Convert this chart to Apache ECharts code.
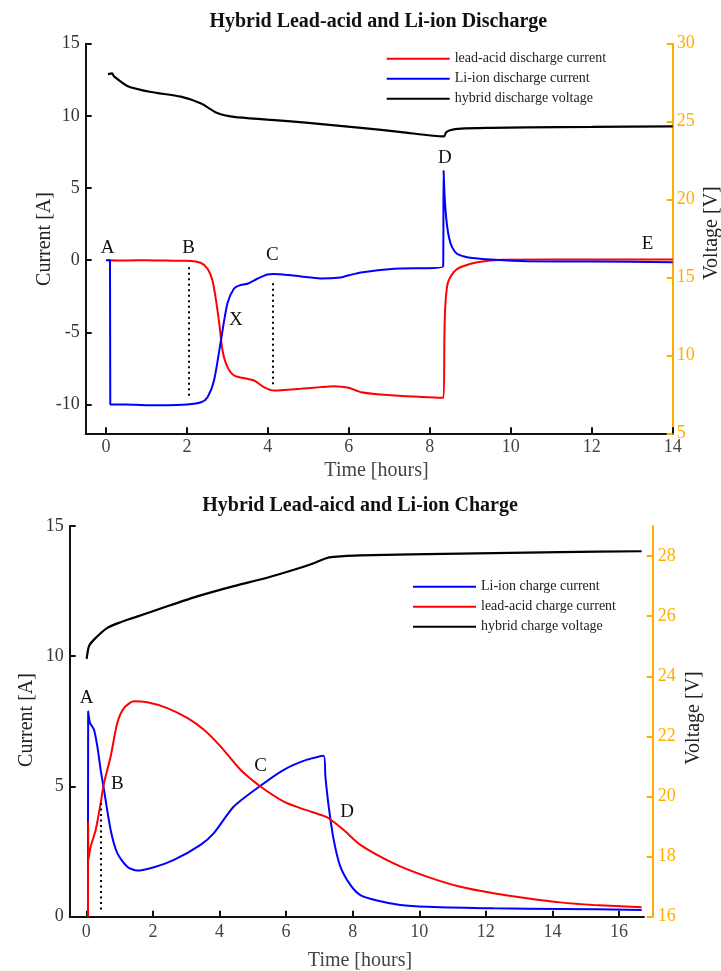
<!DOCTYPE html>
<html>
<head>
<meta charset="utf-8">
<script src="https://cdn.jsdelivr.net/npm/echarts@6/dist/echarts.min.js"></script>
<style>html,body{margin:0;padding:0;background:#fff;}#c{width:721px;height:971px;}</style>
</head>
<body>
<div id="c"></div>
<script>
// ---------- Discharge (top) ----------
const disVoltT = [0.05, 0.15, 0.2, 0.54, 1.11, 1.85, 2.35, 2.75, 3.16, 3.99, 5.0, 6.3, 7.3, 8.35, 8.4, 8.5, 8.77, 9.5, 10.4, 12, 14];
const disVoltV = [28.05, 28.1, 27.9, 27.27, 26.9, 26.6, 26.16, 25.55, 25.3, 25.13, 24.92, 24.6, 24.33, 24.05, 24.3, 24.45, 24.55, 24.6, 24.63, 24.66, 24.7];
const disLiT = [0, 0.1, 0.107, 0.5, 1.0, 1.5, 2.0, 2.35, 2.51, 2.67, 2.84, 3.0, 3.16, 3.3, 3.49, 3.74, 3.99, 4.15, 4.5, 4.81, 5.3, 5.8, 6.0, 6.3, 7.12, 8.33, 8.34, 8.36, 8.39, 8.43, 8.48, 8.55, 8.67, 8.85, 9.0, 9.6, 10.4, 12, 14];
const disLiI = [0, 0, -10, -10, -10.05, -10.05, -10, -9.85, -9.5, -8.34, -5.57, -3.0, -1.98, -1.75, -1.64, -1.29, -1.0, -0.96, -1.03, -1.13, -1.27, -1.2, -1.05, -0.85, -0.6, -0.44, 6.2, 4.8, 3.4, 2.3, 1.5, 0.9, 0.44, 0.25, 0.17, 0.03, -0.07, -0.1, -0.14];
const disLeadT = [0.05, 0.5, 1.0, 1.5, 2.0, 2.35, 2.51, 2.63, 2.72, 2.8, 2.88, 3.0, 3.17, 3.49, 3.66, 3.9, 4.15, 4.5, 4.81, 5.3, 5.63, 6.0, 6.3, 7.12, 8.34, 8.36, 8.38, 8.44, 8.59, 8.75, 9.17, 9.8, 12, 14];
const disLeadI = [0, -0.02, 0, -0.03, -0.05, -0.2, -0.6, -1.4, -2.8, -4.4, -6.26, -7.4, -8.0, -8.22, -8.34, -8.8, -9.04, -8.98, -8.92, -8.8, -8.74, -8.85, -9.15, -9.38, -9.54, -5.5, -3.3, -1.64, -0.83, -0.49, -0.14, 0.03, 0.05, 0.05];
const disXTicks = [0, 2, 4, 6, 8, 10, 12, 14];
const disCurTicks = [-10, -5, 0, 5, 10, 15];
const disNames = ['lead-acid discharge current', 'Li-ion discharge current', 'hybrid discharge voltage'];
const disLetters = [['A', 0.04, 0.86], ['B', 2.04, 0.86], ['C', 4.11, 0.33], ['X', 3.21, -4.18], ['D', 8.37, 7.1], ['E', 13.38, 1.09]];
const disDotted = [[2.04, -0.49, -9.5], [4.13, -1.6, -8.8]];

// ---------- Charge (bottom) ----------
const chVoltT = [0.01, 0.08, 0.23, 0.63, 1.03, 1.43, 2.43, 3.43, 4.43, 5.43, 6.43, 6.83, 7.18, 7.43, 8.23, 11.23, 14.23, 16.68];
const chVoltV = [24.58, 25.0, 25.22, 25.61, 25.8, 25.95, 26.33, 26.69, 27.0, 27.28, 27.61, 27.76, 27.92, 27.97, 28.02, 28.08, 28.13, 28.16];
const chLiT = [0.05, 0.055, 0.11, 0.23, 0.33, 0.43, 0.53, 0.73, 0.93, 1.23, 1.53, 2.03, 2.63, 3.43, 3.83, 4.43, 5.23, 5.93, 6.63, 7.13, 7.18, 7.28, 7.43, 7.63, 7.93, 8.23, 8.73, 9.43, 10.23, 12.23, 14.23, 16.68];
const chLiI = [0, 7.88, 7.44, 7.18, 6.54, 5.64, 4.87, 3.33, 2.44, 1.92, 1.77, 1.9, 2.18, 2.76, 3.21, 4.23, 5.03, 5.64, 6.03, 6.18, 5.38, 4.23, 2.95, 1.92, 1.22, 0.83, 0.62, 0.45, 0.38, 0.32, 0.3, 0.26];
const chLeadT = [0.05, 0.055, 0.06, 0.13, 0.28, 0.43, 0.53, 0.73, 0.93, 1.13, 1.43, 1.83, 2.43, 3.03, 3.53, 4.03, 4.63, 5.23, 5.93, 6.43, 7.13, 7.28, 7.73, 8.23, 9.23, 10.23, 11.23, 12.23, 13.23, 14.23, 15.23, 16.68];
const chLeadI = [0, 3.65, 2.18, 2.69, 3.33, 4.36, 5.13, 6.15, 7.44, 8.01, 8.27, 8.23, 8.01, 7.63, 7.18, 6.54, 5.64, 5.0, 4.42, 4.17, 3.87, 3.78, 3.33, 2.76, 2.05, 1.54, 1.15, 0.9, 0.71, 0.55, 0.45, 0.36];
const chXTicks = [0, 2, 4, 6, 8, 10, 12, 14, 16];
const chVoltTicks = [16, 18, 20, 22, 24, 26, 28];
const chNames = ['Li-ion charge current', 'lead-acid charge current', 'hybrid charge voltage'];
const chLetters = [['A', 0.01, 8.4], ['B', 0.93, 5.1], ['C', 5.23, 5.8], ['D', 7.83, 4.0]];
const chDotted = [[0.43, 4.37, 0.26]];

const FONT = '"Liberation Serif", "DejaVu Serif", serif';
const ORANGE = '#FFAD00';
const zip = (a, b) => a.map((v, i) => [v, b[i]]);

const blackAxisLine = { show: true, onZero: false, lineStyle: { color: '#111', width: 2 } };
const orangeAxisLine = { show: true, onZero: false, lineStyle: { color: ORANGE, width: 2 } };
const tickIn = (color, vals) => ({ show: true, inside: true, length: 6, lineStyle: { color: color, width: 2 }, customValues: vals });

function letterPoints(list) {
  return {
    symbol: 'circle', symbolSize: 0, silent: true,
    label: { show: true, position: 'inside', color: '#111', fontFamily: FONT, fontSize: 19, formatter: p => p.name },
    data: list.map(l => ({ name: l[0], coord: [l[1], l[2]] }))
  };
}
function dottedLines(list) {
  return {
    symbol: ['none', 'none'], silent: true, label: { show: false },
    lineStyle: { color: '#000', width: 2, type: [2, 3.5] },
    data: list.map(d => [{ coord: [d[0], d[1]] }, { coord: [d[0], d[2]] }])
  };
}
function lineSeries(name, xi, yi, t, v, color, w) {
  return { name: name, type: 'line', xAxisIndex: xi, yAxisIndex: yi, data: zip(t, v), showSymbol: false, symbol: 'none',
    smooth: 0.25,
    lineStyle: { color: color, width: w }, itemStyle: { color: color } };
}

const s0 = lineSeries(disNames[0], 0, 0, disLeadT, disLeadI, '#FF0000', 2);
s0.markPoint = letterPoints(disLetters); s0.markLine = dottedLines(disDotted);
const s3 = lineSeries(chNames[0], 1, 2, chLiT, chLiI, '#0000FF', 2);
s3.markPoint = letterPoints(chLetters); s3.markLine = dottedLines(chDotted);

const option = {
  animation: false,
  backgroundColor: '#fff',
  grid: [
    { left: 85.7, top: 43.7, width: 587, height: 389.6 },
    { left: 69.7, top: 526, width: 574.3, height: 390.7 }
  ],
  xAxis: [
    { gridIndex: 0, type: 'value', min: -0.5, max: 14, axisLine: blackAxisLine, axisTick: tickIn('#111', disXTicks),
      axisLabel: { customValues: disXTicks, color: '#444', fontFamily: FONT, fontSize: 18, margin: 5 }, splitLine: { show: false } },
    { gridIndex: 1, type: 'value', min: -0.5, max: 16.75, axisLine: blackAxisLine, axisTick: tickIn('#111', chXTicks),
      axisLabel: { customValues: chXTicks, color: '#444', fontFamily: FONT, fontSize: 18, margin: 7 }, splitLine: { show: false } }
  ],
  yAxis: [
    { gridIndex: 0, type: 'value', min: -12, max: 15, position: 'left', axisLine: blackAxisLine, axisTick: tickIn('#111', disCurTicks),
      axisLabel: { customValues: disCurTicks, color: '#333', fontFamily: FONT, fontSize: 18, margin: 6 }, splitLine: { show: false } },
    { gridIndex: 0, type: 'value', min: 5, max: 30, interval: 5, position: 'right', axisLine: orangeAxisLine,
      axisTick: { show: true, inside: true, length: 6, lineStyle: { color: ORANGE, width: 2 } },
      axisLabel: { color: ORANGE, fontFamily: FONT, fontSize: 18, margin: 4 }, splitLine: { show: false } },
    { gridIndex: 1, type: 'value', min: 0, max: 15, interval: 5, position: 'left', axisLine: blackAxisLine,
      axisTick: { show: true, inside: true, length: 6, lineStyle: { color: '#111', width: 2 } },
      axisLabel: { color: '#333', fontFamily: FONT, fontSize: 18, margin: 6 }, splitLine: { show: false } },
    { gridIndex: 1, type: 'value', min: 16, max: 29, position: 'right', offset: 8.7, axisLine: orangeAxisLine,
      axisTick: tickIn(ORANGE, chVoltTicks),
      axisLabel: { customValues: chVoltTicks, color: ORANGE, fontFamily: FONT, fontSize: 18, margin: 5 }, splitLine: { show: false } }
  ],
  legend: [
    { data: disNames, orient: 'vertical', left: 386.7, top: 48.7, padding: 0, itemGap: 0, icon: 'rect', itemWidth: 63, itemHeight: 2,
      textStyle: { fontFamily: FONT, fontSize: 14, color: '#222', lineHeight: 20 } },
    { data: chNames, orient: 'vertical', left: 413, top: 576.7, padding: 0, itemGap: 0, icon: 'rect', itemWidth: 63, itemHeight: 2,
      textStyle: { fontFamily: FONT, fontSize: 14, color: '#222', lineHeight: 20 } }
  ],
  series: [
    s0,
    lineSeries(disNames[1], 0, 0, disLiT, disLiI, '#0000FF', 2),
    lineSeries(disNames[2], 0, 1, disVoltT, disVoltV, '#000', 2.2),
    s3,
    lineSeries(chNames[1], 1, 2, chLeadT, chLeadI, '#FF0000', 2),
    lineSeries(chNames[2], 1, 3, chVoltT, chVoltV, '#000', 2.2)
  ],
  graphic: [
    { type: 'text', x: 378.3, y: 22, style: { text: 'Hybrid Lead-acid and Li-ion Discharge', fontFamily: FONT, fontWeight: 'bold', fontSize: 20, fill: '#111', align: 'center', verticalAlign: 'middle' } },
    { type: 'text', x: 360, y: 506, style: { text: 'Hybrid Lead-aicd and Li-ion Charge', fontFamily: FONT, fontWeight: 'bold', fontSize: 20, fill: '#111', align: 'center', verticalAlign: 'middle' } },
    { type: 'text', x: 45, y: 239, rotation: Math.PI / 2, style: { text: 'Current [A]', fontFamily: FONT, fontSize: 20, fill: '#222', align: 'center', verticalAlign: 'middle' } },
    { type: 'text', x: 711.7, y: 233, rotation: Math.PI / 2, style: { text: 'Voltage [V]', fontFamily: FONT, fontSize: 20, fill: '#222', align: 'center', verticalAlign: 'middle' } },
    { type: 'text', x: 376.5, y: 471, style: { text: 'Time [hours]', fontFamily: FONT, fontSize: 20, fill: '#444', align: 'center', verticalAlign: 'middle' } },
    { type: 'text', x: 27, y: 720, rotation: Math.PI / 2, style: { text: 'Current [A]', fontFamily: FONT, fontSize: 20, fill: '#222', align: 'center', verticalAlign: 'middle' } },
    { type: 'text', x: 694, y: 718, rotation: Math.PI / 2, style: { text: 'Voltage [V]', fontFamily: FONT, fontSize: 20, fill: '#222', align: 'center', verticalAlign: 'middle' } },
    { type: 'text', x: 360, y: 961, style: { text: 'Time [hours]', fontFamily: FONT, fontSize: 20, fill: '#444', align: 'center', verticalAlign: 'middle' } }
  ]
};

const chart = echarts.init(document.getElementById('c'), null, { renderer: 'canvas' });
chart.setOption(option);
</script>
</body>
</html>
